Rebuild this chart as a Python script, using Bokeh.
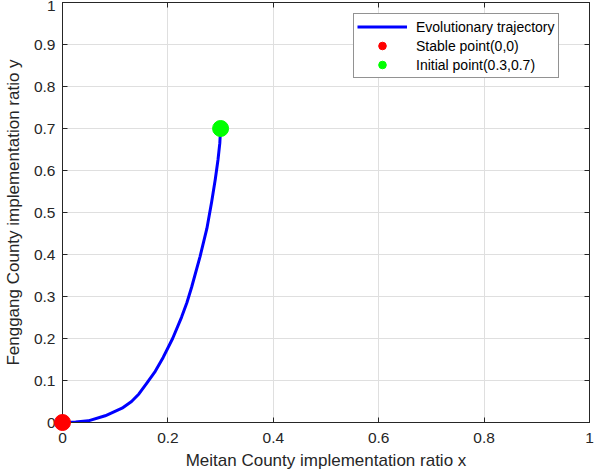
from bokeh.plotting import figure
from bokeh.models import Range1d, LinearAxis, FixedTicker, Legend, LegendItem
from bokeh.embed import file_html
from bokeh.resources import INLINE

# ---- data ----
traj_x = [0.0, 0.025, 0.049, 0.081, 0.113, 0.131, 0.145, 0.160, 0.176, 0.191, 0.209, 0.226, 0.236, 0.245,
          0.261, 0.274, 0.283, 0.290, 0.295, 0.2985, 0.300]
traj_y = [0.0, 0.001, 0.004, 0.016, 0.034, 0.050, 0.068, 0.094, 0.122, 0.155, 0.200, 0.251, 0.285, 0.322,
          0.395, 0.462, 0.525, 0.580, 0.625, 0.665, 0.700]
stable_x = [0.0]
stable_y = [0.0]
initial_x = [0.3]
initial_y = [0.7]
x_ticks = [0, 0.2, 0.4, 0.6, 0.8, 1]
x_tick_labels = ["0", "0.2", "0.4", "0.6", "0.8", "1"]
y_ticks = [0, 0.1, 0.2, 0.3, 0.4, 0.5, 0.6, 0.7, 0.8, 0.9, 1]
y_tick_labels = ["0", "0.1", "0.2", "0.3", "0.4", "0.5", "0.6", "0.7", "0.8", "0.9", "1"]
series_names = ["Evolutionary trajectory", "Stable point(0,0)", "Initial point(0.3,0.7)"]
x_label = "Meitan County implementation ratio x"
y_label = "Fenggang County implementation ratio y"

FONT = "Liberation Sans"
TXT = "#262626"
GRID = "#dfdfdf"

p = figure(width=595, height=474, output_backend="svg", toolbar_location=None,
           x_range=Range1d(0, 1), y_range=Range1d(0, 1),
           min_border_left=62, min_border_right=6, min_border_top=2, min_border_bottom=52,
           x_axis_label=x_label, y_axis_label=y_label)
p.outline_line_color = TXT
p.outline_line_width = 1
p.background_fill_color = "white"
p.border_fill_color = "white"

def style_axis(ax, ticks, labels, show_labels=True):
    ax.ticker = FixedTicker(ticks=ticks)
    ax.major_label_overrides = {t: l for t, l in zip(ticks, labels)}
    ax.axis_line_color = TXT
    ax.major_tick_line_color = TXT
    ax.major_tick_in = 5
    ax.major_tick_out = 0
    ax.minor_tick_line_color = None
    ax.major_label_text_font = FONT
    ax.major_label_text_color = TXT
    ax.major_label_text_font_size = "15.5px"
    ax.axis_label_text_font = FONT
    ax.axis_label_text_color = TXT
    ax.axis_label_text_font_size = "17px"
    ax.axis_label_text_font_style = "normal"
    if not show_labels:
        ax.major_label_text_font_size = "0px"
        ax.major_label_standoff = 0
        ax.axis_label = None

xa = p.xaxis[0]
ya = p.yaxis[0]
style_axis(xa, x_ticks, x_tick_labels)
style_axis(ya, y_ticks, y_tick_labels)
xa.major_label_standoff = 10
xa.axis_label_standoff = 5
ya.major_label_standoff = 7
ya.axis_label_standoff = 8

top_ax = LinearAxis()
right_ax = LinearAxis()
style_axis(top_ax, x_ticks, ["" for _ in x_ticks], show_labels=False)
style_axis(right_ax, y_ticks, ["" for _ in y_ticks], show_labels=False)
p.add_layout(top_ax, "above")
p.add_layout(right_ax, "right")

p.xgrid.ticker = FixedTicker(ticks=x_ticks)
p.ygrid.ticker = FixedTicker(ticks=y_ticks)
p.xgrid.grid_line_color = GRID
p.ygrid.grid_line_color = GRID

r_line = p.line(traj_x, traj_y, line_color="#0000ff", line_width=3, line_join="round")
r_stable = p.scatter(stable_x, stable_y, size=16, fill_color="#ff0000", line_color="#ff0000", level="overlay")
r_init = p.scatter(initial_x, initial_y, size=16, fill_color="#00ff00", line_color="#00ff00", level="overlay")

legend = Legend(items=[
    LegendItem(label=series_names[0], renderers=[r_line]),
    LegendItem(label=series_names[1], renderers=[r_stable]),
    LegendItem(label=series_names[2], renderers=[r_init]),
], location=(291, 344))
legend.padding = 3
legend.spacing = 0
legend.margin = 0
legend.glyph_width = 50
legend.glyph_height = 19
legend.label_height = 19
legend.label_standoff = 9
legend.label_text_font = FONT
legend.label_text_font_size = "14px"
legend.label_text_color = "#000000"
legend.border_line_color = TXT
legend.border_line_width = 1
legend.background_fill_color = "white"
legend.background_fill_alpha = 1
p.add_layout(legend, "center")

open("out.html", "w").write(file_html(p, INLINE))
